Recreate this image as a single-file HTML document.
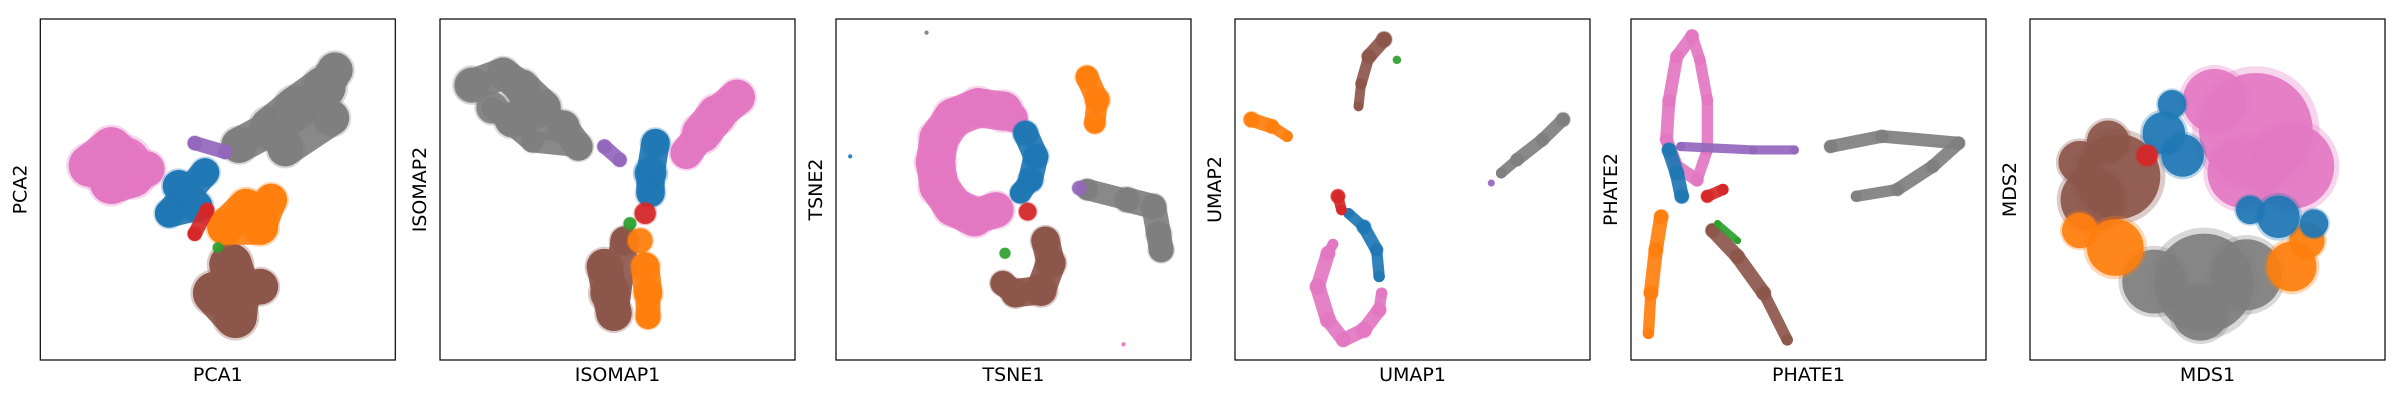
<!DOCTYPE html>
<html><head><meta charset="utf-8"><style>
html,body{margin:0;padding:0;background:#fff;width:2400px;height:400px;overflow:hidden}
svg{display:block}
text{font-family:"DejaVu Sans","Liberation Sans",sans-serif;font-size:19px;fill:#000}
</style></head><body>
<svg id="fig" width="2400" height="400" xmlns="http://www.w3.org/2000/svg"></svg>
<script>
const colors = {blue:'#1f77b4',orange:'#ff7f0e',green:'#2ca02c',red:'#d62728',purple:'#9467bd',brown:'#8c564b',pink:'#e377c2',gray:'#7f7f7f'};
const panelNames = ['PCA','ISOMAP','TSNE','UMAP','PHATE','MDS'];

const pcaCluster = ['brown','brown','brown','brown','brown','pink','pink','pink','pink','pink','pink','gray','gray','gray','gray','gray','gray','gray','blue','blue','blue','blue','orange','orange','orange','orange','purple','purple','red','red','green'];
const pcaX = [53.6,56,55,49,62,14,20,24,20,26,30,56,65,72,80,83,69,82,39,44,36.3,46.4,58,52,62,65,52,43.5,43.5,47,50];
const pcaY = [28,20.5,12.7,19.6,21.5,57,62,58,52,54,56,63,68,74,80,85,62,71,51,45,43,55,45,39,39,47,61,63.6,37,44,33];
const pcaSpread = [6,6,6,6,5,6,6,7,6,6,5,5,6,6,6,5,5,5,4.5,4.5,4,4,5,5,5,4.5,2,2,2,2,1.5];

const isoCluster = ['gray','gray','gray','gray','gray','gray','gray','gray','gray','pink','pink','pink','pink','brown','brown','brown','brown','orange','orange','orange','orange','blue','blue','blue','red','purple','purple','green'];
const isoX = [9,17.8,23,29,20.4,34.8,39,26,14.7,83.7,78,73.7,69.4,46.3,47.8,49,52,57.8,58.6,58.6,56.4,60.7,59.3,59.3,57.8,46.3,50.6,53.5];
const isoY = [80.6,84,80,74,70.5,68.5,62.6,64,74,77,72,66.5,60.7,27.4,19.6,13.7,35,27.4,19.6,12.7,35,63.6,54.8,49,43,62.6,58.7,40];
const isoSpread = [5,4.5,5,5,5,4.5,4,3,4.5,5,5.5,5.5,4.5,5,5.5,5,4,4,4,3.5,3.5,4,4.5,4,3,2,2,1.8];

const tsneCluster = ['pink','pink','pink','pink','pink','pink','pink','pink','pink','pink','blue','blue','blue','blue','orange','orange','orange','gray','gray','gray','gray','gray','purple','red','brown','brown','brown','brown','brown','green','gray','blue','pink'];
const tsneX = [50,47,40,33,29,28,29,33,39,45,53.4,56.3,54.8,52,70.7,73.6,72.9,70.7,82,89.5,90.9,91.6,68.5,54,59,60.5,57.7,50.5,47,47.6,25.5,4,81];
const tsneY = [71,73,74,71,65,58,51,45,42,44,66.5,59.7,52.8,49,83,76.3,69.5,50,47,45,37,32.3,50.4,43.5,35,28.4,20.5,19.6,22.5,31.3,96,59.7,4.6];
const tsneSpread = [4,5.5,5.5,5.5,5.5,5.5,5.5,5.5,5.5,5,3.5,3.5,3.5,3,3.2,3.5,3,3,3.5,3.5,3.5,3.5,2,2.5,4,4.2,4.5,4,3.5,1.6,0.6,0.6,0.6];

const umapCluster = ['orange','orange','orange','brown','brown','brown','brown','green','gray','gray','gray','gray','purple','red','red','blue','blue','blue','blue','pink','pink','pink','pink','pink','pink','pink','pink'];
const umapX = [4.6,10.4,14.7,42,37.7,35.5,34.8,45.6,92.4,86.6,79.4,75,72.2,29,30,32,36.3,39.9,40.6,27.6,26.2,23.3,26.2,30.5,36.3,40.6,41.3];
const umapY = [70.5,68.5,65.6,94,89,81,74.4,88,70.5,64.6,58.7,54.8,51.9,48,44,43,39,32.3,24.5,34,31.3,21.5,11.7,5.9,8.8,14.7,19.6];
const umapSpread = [2.2,2,1.6,2.2,2,1.6,1.4,1.2,2,1.8,1.8,1.5,1,2,1.5,1.5,2,1.8,1.6,1.5,2,2.2,2.2,2,2.2,2,1.6];

const phateCluster = ['pink','pink','pink','pink','pink','pink','pink','pink','pink','pink','blue','blue','blue','red','red','purple','purple','purple','gray','gray','gray','gray','gray','gray','orange','orange','orange','orange','brown','brown','brown','brown','green','green'];
const phateX = [17.2,12.9,10.7,10,12.9,18.6,21.5,21.5,19.4,17.2,10.7,12.9,14.3,21.5,25.9,14,34.5,46,56.2,70.7,92.3,85,75,63.5,8.5,7,5.6,4.9,23,30,37.4,44,24.4,30];
const phateY = [95,89,76,64.6,56.8,52.8,61.6,76.3,88,95,61.6,54.8,48,48,50,62.6,61.6,61.6,62.6,65.6,63.6,56.8,50,48,42,32.3,19.6,7.8,38,30.3,19.6,5.9,40,35];
const phateSpread = [1.8,1.8,1.8,1.8,1.8,1.8,1.6,1.6,1.6,1.8,2,2,2,1.8,1.6,1.3,1.3,1.3,1.8,1.8,1.8,1.8,1.8,1.6,2,2,2,1.6,2,2,2,1.6,1,1];

const mdsCluster = ['gray','gray','gray','gray','brown','brown','brown','brown','orange','orange','orange','orange','pink','pink','pink','pink','blue','blue','blue','blue','blue','blue','red'];
const mdsX = [49,35,61,48,24.7,17.6,14,22,24,14,73.7,78,63.6,52,73.7,60,37.7,43,40,70,62,80,33];
const mdsY = [22.5,23,25,14,53.8,47,58,64,33,38,27.4,35,67.5,76,56.8,55,66.5,60,75,42,44,40,60];
const mdsSpread = [14,9,10,8,12,9,6,6,8,5,7,5,16,9,12,10,6,6,4,6,4,4,3];

const panelCluster = [pcaCluster,isoCluster,tsneCluster,umapCluster,phateCluster,mdsCluster];
const panelX = [pcaX,isoX,tsneX,umapX,phateX,mdsX];
const panelY = [pcaY,isoY,tsneY,umapY,phateY,mdsY];
const panelSpread = [pcaSpread,isoSpread,tsneSpread,umapSpread,phateSpread,mdsSpread];
const panelOrder = [
 ['brown','pink','gray','blue','orange','purple','red','green'],
 ['gray','pink','brown','orange','blue','red','purple','green'],
 ['pink','blue','orange','gray','purple','red','brown','green'],
 ['orange','brown','green','gray','purple','pink','blue','red'],
 ['pink','purple','gray','orange','brown','blue','red','green'],
 ['gray','brown','orange','pink','blue','red']
];
const strayLimit = 0.7;
const maxGap = [22,22,22,22,30,0];

const NS='http://www.w3.org/2000/svg';
const fig=document.getElementById('fig');
const lefts=[40.3,440,836,1235,1631,2030];
const W=355, TOP=19, BOT=360, H=BOT-TOP;
function mk(tag,attrs,parent){const e=document.createElementNS(NS,tag);for(const k in attrs)e.setAttribute(k,attrs[k]);parent.appendChild(e);return e;}

panelNames.forEach((name,p)=>{
  const L=lefts[p];
  const sx=v=>L+v/100*W;
  const sy=v=>BOT-v/100*H;
  const g=mk('g',{},fig);
  
  
  const cl=mk('clipPath',{id:'clip'+p},g);
  mk('rect',{x:L,y:TOP,width:W,height:H},cl);
  const pts=mk('g',{'clip-path':'url(#clip'+p+')'},g);
  
  
  const cs=panelCluster[p], xs=panelX[p], ys=panelY[p], rs=panelSpread[p];
  panelOrder[p].forEach(c=>{
    const idx=[];
    cs.forEach((cc,i)=>{ if(cc===c) idx.push(i); });
    for(let k=0;k+1<idx.length;k++){
      const a=idx[k], b=idx[k+1];
      if(rs[a]<=strayLimit||rs[b]<=strayLimit) continue;
      if(Math.hypot(xs[a]-xs[b],ys[a]-ys[b])>maxGap[p]) continue;
      const w=2*Math.min(rs[a],rs[b])/100*W;
      const seg=mk('line',{x1:sx(xs[a]),y1:sy(ys[a]),x2:sx(xs[b]),y2:sy(ys[b]),stroke:colors[c],'stroke-width':w,'stroke-linecap':'round','stroke-opacity':0.92},pts);
      
      
    }
    idx.forEach(i=>{
      const r=rs[i]/100*W;
      if(r>6){
        const halo=mk('circle',{cx:sx(xs[i]),cy:sy(ys[i]),r:r*1.12,fill:colors[c],'fill-opacity':0.3},pts);
        
        
      }
      const dot=mk('circle',{cx:sx(xs[i]),cy:sy(ys[i]),r:Math.max(r,1.6),fill:colors[c],'fill-opacity':0.92},pts);
      
      
    });
  });
  const frame=mk('rect',{x:L,y:TOP,width:W,height:H,fill:'none',stroke:'#000','stroke-width':1.2},g);
  
  
  const xl=mk('text',{x:L+W/2,y:381,'text-anchor':'middle'},g);
  xl.textContent=name+'1';
  
  
  const yl=mk('text',{x:0,y:0,'text-anchor':'middle',transform:'translate('+(L-14)+','+(TOP+H/2)+') rotate(-90)'},g);
  yl.textContent=name+'2';
  
  
});
</script>
</body></html>
